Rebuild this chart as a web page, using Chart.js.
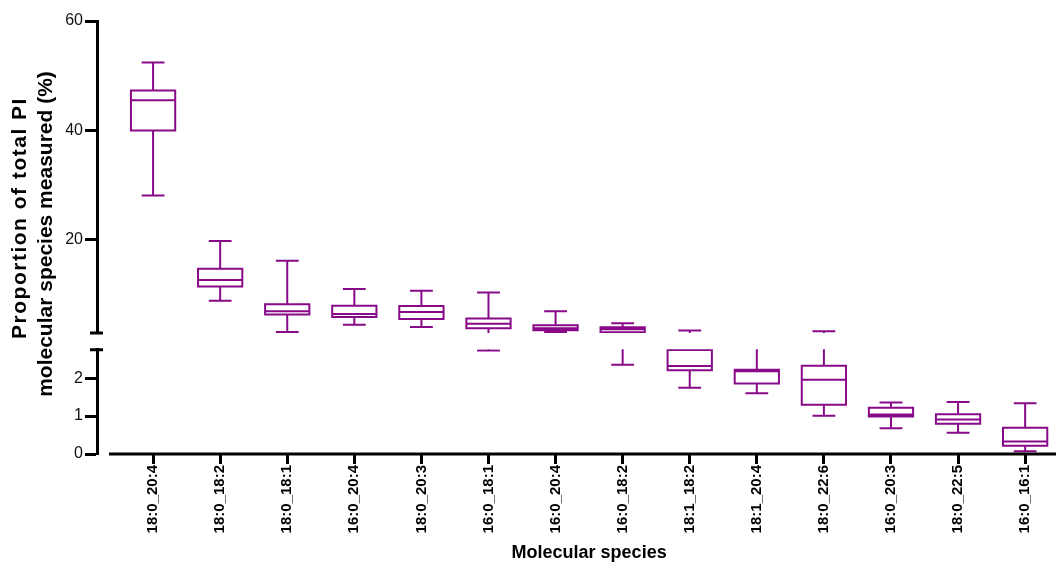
<!DOCTYPE html>
<html>
<head>
<meta charset="utf-8">
<script src="https://cdn.jsdelivr.net/npm/chart.js@4"></script>
<style>
  body { margin: 0; background: #fff; }
  canvas { display: block; }
</style>
</head>
<body>
<canvas id="boxChart" width="1056" height="564"></canvas>
<script>
// Molecular species (x categories)
var species = ['18:0_20:4', '18:0_18:2', '18:0_18:1', '16:0_20:4', '18:0_20:3', '16:0_18:1', '16:0_20:4',
               '16:0_18:2', '18:1_18:2', '18:1_20:4', '18:0_22:6', '16:0_20:3', '18:0_22:5', '16:0_16:1'];

// Box plot values (% of total PI)
var whiskerMax = [52.4, 19.8, 16.2, 11.05, 10.74, 10.38, 6.96, 4.77, 3.44, 2.8, 3.33, 1.36, 1.37, 1.34];
var upperQ     = [47.3, 14.76, 8.24, 8.0, 7.95, 5.63, 4.4, 4.04, 2.74, 2.22, 2.33, 1.22, 1.05, 0.69];
var medians    = [45.5, 12.7, 6.96, 6.48, 6.85, 4.71, 3.86, 3.67, 2.32, 2.18, 1.96, 1.04, 0.91, 0.33];
var lowerQ     = [40.0, 11.5, 6.36, 5.94, 5.57, 3.86, 3.49, 3.13, 2.21, 1.86, 1.30, 0.99, 0.80, 0.22];
var whiskerMin = [28.1, 8.9, 3.2, 4.53, 4.11, 2.73, 3.2, 2.35, 1.75, 1.60, 1.01, 0.68, 0.56, 0.07];

// Tick labels of the broken y axis
var topTicks = [20, 40, 60];
var bottomTicks = [0, 1, 2];

var boxColor = '#880a88';
var fontFamily = '"Liberation Sans", Arial, Helvetica, sans-serif';

// draws the box plots, clipped to each segment of the broken axis
var boxPlugin = {
    id: 'boxPlots',
    afterDatasetsDraw: function (chart) {
        var ctx = chart.ctx;
        var xs = chart.scales.x;
        var area = chart.chartArea;
        [chart.scales.yTop, chart.scales.yBot].forEach(function (ys) {
            ctx.save();
            ctx.beginPath();
            var extraTop = ys.id === 'yTop' ? 3 : 0.5;
            var extraBottom = ys.id === 'yTop' ? 0 : 2;
            ctx.rect(area.left, ys.top - extraTop, area.width, ys.height + extraTop + extraBottom);
            ctx.clip();
            ctx.strokeStyle = boxColor;
            ctx.lineWidth = 2;
            species.forEach(function (name, i) {
                var cx = xs.getPixelForValue(i);
                var hw = xs.getPixelForValue(i + 0.33) - cx;
                var cw = xs.getPixelForValue(i + 0.17) - cx;
                var pMax = ys.getPixelForValue(whiskerMax[i]);
                var pQ3 = ys.getPixelForValue(upperQ[i]);
                var pMed = ys.getPixelForValue(medians[i]);
                var pQ1 = ys.getPixelForValue(lowerQ[i]);
                var pMin = ys.getPixelForValue(whiskerMin[i]);
                ctx.beginPath();
                ctx.rect(cx - hw, pQ3, 2 * hw, pQ1 - pQ3);
                ctx.moveTo(cx - hw, pMed); ctx.lineTo(cx + hw, pMed);
                ctx.moveTo(cx, pQ3); ctx.lineTo(cx, pMax);
                ctx.moveTo(cx - cw, pMax); ctx.lineTo(cx + cw, pMax);
                ctx.moveTo(cx, pQ1); ctx.lineTo(cx, pMin);
                ctx.moveTo(cx - cw, pMin); ctx.lineTo(cx + cw, pMin);
                ctx.stroke();
            });
            ctx.restore();
        });
    }
};

// axis decorations: detached x axis line, break caps, axis titles
var axisPlugin = {
    id: 'axisExtras',
    afterDraw: function (chart) {
        var ctx = chart.ctx;
        var area = chart.chartArea;
        var xs = chart.scales.x;
        ctx.save();
        ctx.strokeStyle = '#000';
        ctx.lineWidth = 3;
        ctx.beginPath();
        ctx.moveTo(area.left + 12, area.bottom);
        ctx.lineTo(area.right, area.bottom);
        // break caps
        ctx.moveTo(area.left - 7, chart.scales.yTop.bottom);
        ctx.lineTo(area.left + 6, chart.scales.yTop.bottom);
        ctx.moveTo(area.left - 7, chart.scales.yBot.top);
        ctx.lineTo(area.left + 6, chart.scales.yBot.top);
        ctx.stroke();

        ctx.fillStyle = '#000';
        ctx.font = 'bold 21px ' + fontFamily;
        ctx.textAlign = 'center';
        ctx.textBaseline = 'middle';
        ctx.save();
        ctx.translate(20, 218);
        ctx.rotate(-Math.PI / 2);
        ctx.letterSpacing = '1.5px';
        ctx.fillText('Proportion of total PI', 0, 0);
        ctx.restore();
        ctx.save();
        ctx.translate(46, 234);
        ctx.rotate(-Math.PI / 2);
        ctx.fillText('molecular species measured (%)', 0, 0);
        ctx.restore();

        ctx.font = 'bold 18px ' + fontFamily;
        var mid = (xs.getPixelForValue(0) + xs.getPixelForValue(species.length - 1)) / 2;
        ctx.fillText('Molecular species', mid, 553);
        ctx.restore();
    }
};

function yAxis(stackWeight, min, max, ticks) {
    return {
        type: 'linear',
        position: 'left',
        stack: 'broken',
        stackWeight: stackWeight,
        min: min,
        max: max,
        afterBuildTicks: function (scale) {
            scale.ticks = ticks.map(function (v) { return { value: v }; });
        },
        afterFit: function (scale) { scale.width = 97; },
        grid: { drawOnChartArea: false, drawTicks: true, tickLength: 12, tickWidth: 3, tickColor: '#000' },
        border: { display: true, width: 3, color: '#000' },
        ticks: { color: '#111', padding: 2, font: { family: fontFamily, size: 16 } }
    };
}

document.addEventListener('DOMContentLoaded', function () {
    var ctx = document.getElementById('boxChart').getContext('2d');
    new Chart(ctx, {
        type: 'scatter',
        data: { datasets: [] },
        options: {
            responsive: false,
            animation: false,
            devicePixelRatio: 1,
            layout: { padding: { top: 21, right: 0, bottom: 0, left: 0 } },
            plugins: { legend: { display: false }, tooltip: { enabled: false } },
            scales: {
                x: {
                    type: 'linear',
                    min: -0.836,
                    max: 13.46,
                    afterBuildTicks: function (scale) {
                        scale.ticks = species.map(function (_, i) { return { value: i }; });
                    },
                    afterFit: function (scale) { scale.height = 110; },
                    grid: { drawOnChartArea: false, drawTicks: true, tickLength: 10, tickWidth: 3, tickColor: '#000' },
                    border: { display: false },
                    ticks: {
                        autoSkip: false,
                        minRotation: 90,
                        maxRotation: 90,
                        padding: 1,
                        color: '#000',
                        font: { family: fontFamily, size: 15, weight: 'bold' },
                        callback: function (v) { return species[v]; }
                    }
                },
                yBot: yAxis(104.3, 0, 2.75, bottomTicks),
                yGap: {
                    type: 'linear', position: 'left', stack: 'broken', stackWeight: 16.7,
                    min: 0, max: 1, display: false
                },
                yTop: yAxis(312, 3, 60, topTicks)
            }
        },
        plugins: [boxPlugin, axisPlugin]
    });
});
</script>
</body>
</html>
